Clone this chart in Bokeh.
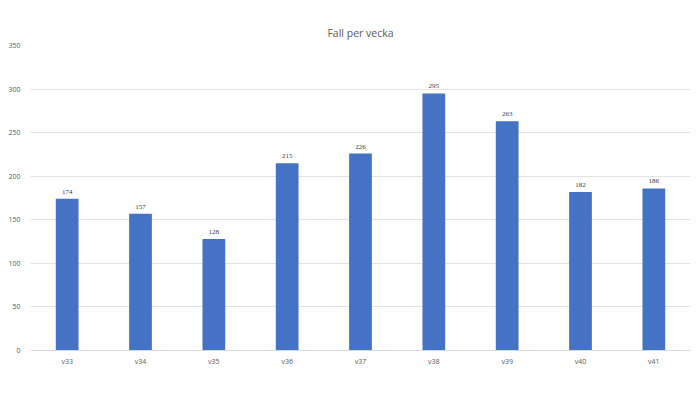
from bokeh.plotting import figure
from bokeh.models import ColumnDataSource, FactorRange, Range1d, SingleIntervalTicker, LabelSet
from bokeh.embed import file_html
from bokeh.resources import INLINE

weeks = ["v33", "v34", "v35", "v36", "v37", "v38", "v39", "v40", "v41"]
cases = [174, 157, 128, 215, 226, 295, 263, 182, 186]
label_text = [str(v) for v in cases]

src = ColumnDataSource(dict(x=weeks, y=cases, t=label_text))

p = figure(width=696, height=390, x_range=FactorRange(*weeks, range_padding=0),
           y_range=Range1d(0, 350), output_backend="svg", toolbar_location=None,
           title="Fall per vecka", min_border_left=30, min_border_right=6,
           min_border_top=45, min_border_bottom=40)
p.title.align = "center"
p.title.text_font = "Open Sans"
p.title.text_font_size = "10.5px"
p.title.text_font_style = "normal"
p.title.text_color = "#595959"
p.title.offset = 0
p.title.standoff = 12

p.vbar(x="x", top="y", width=0.31, source=src, fill_color="#4472C4", line_color=None)

labels = LabelSet(x="x", y="y", text="t", source=src, text_align="center",
                  y_offset=5, text_font_size="7px", text_color="#404040",
                  text_font="Open Sans")
p.add_layout(labels)

p.yaxis.ticker = SingleIntervalTicker(interval=50)
for ax in (p.xaxis, p.yaxis):
    ax.axis_line_color = None
    ax.major_tick_line_color = None
    ax.minor_tick_line_color = None
    ax.major_tick_out = 0
    ax.major_tick_in = 0
    ax.major_label_text_font_size = "7px"
    ax.major_label_text_color = "#595959"
    ax.major_label_text_font = "Open Sans"
p.xaxis.axis_line_color = "#d9d9d9"
p.xaxis.major_label_standoff = 6
p.yaxis.major_label_standoff = 6

p.xgrid.grid_line_color = None
p.ygrid.grid_line_color = "#e3e3e3"
p.outline_line_color = None

open("out.html", "w").write(file_html(p, INLINE))
